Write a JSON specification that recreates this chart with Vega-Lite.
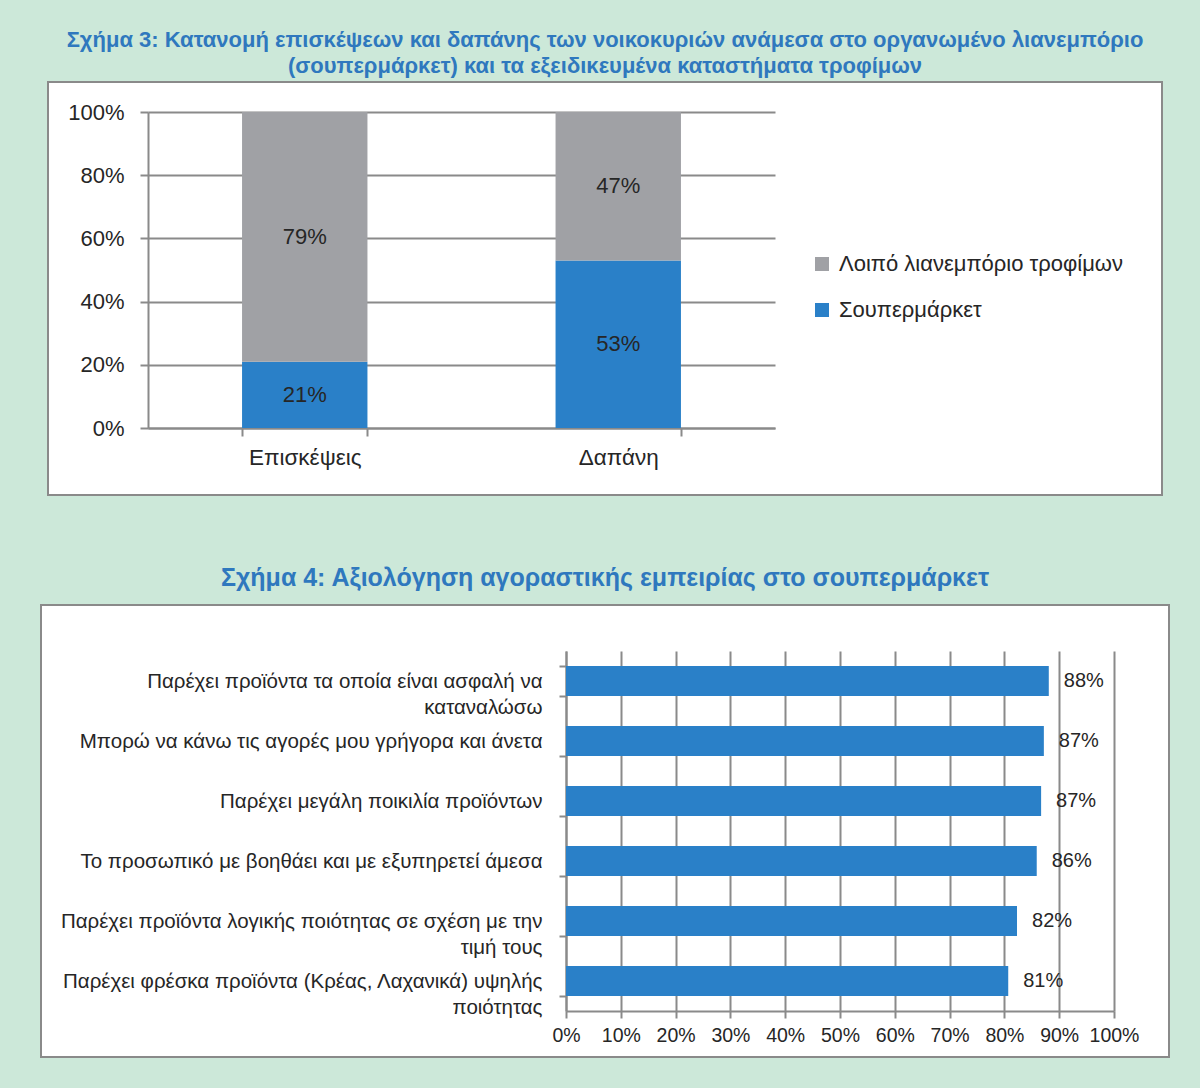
{
  "$schema": "https://vega.github.io/schema/vega-lite/v6.json",
  "background": "#cce8d9",
  "padding": {"left": 40, "top": 28, "right": 32, "bottom": 31},
  "spacing": 69,
  "center": true,
  "config": {
    "font": "Liberation Sans",
    "view": {"fill": "white", "stroke": "#8a8a8a", "strokeWidth": 2},
    "axis": {"labelColor": "#262626", "domainColor": "#8a8a8a", "tickColor": "#8a8a8a", "gridColor": "#8a8a8a", "domainWidth": 2, "tickWidth": 2, "gridWidth": 2, "title": null}
  },
  "vconcat": [
    {
      "width": 1114,
      "height": 413,
      "title": {
        "text": ["Σχήμα 3: Κατανομή επισκέψεων και δαπάνης των νοικοκυριών ανάμεσα στο οργανωμένο λιανεμπόριο", "(σουπερμάρκετ) και τα εξειδικευμένα καταστήματα τροφίμων"],
        "fontSize": 22, "fontWeight": "bold", "color": "#2f78be", "lineHeight": 26, "offset": 4, "anchor": "middle"
      },
      "data": {"values": [
        {"category": "Επισκέψεις", "series": "Σουπερμάρκετ", "share": 0.21},
        {"category": "Επισκέψεις", "series": "Λοιπό λιανεμπόριο τροφίμων", "share": 0.79},
        {"category": "Δαπάνη", "series": "Σουπερμάρκετ", "share": 0.53},
        {"category": "Δαπάνη", "series": "Λοιπό λιανεμπόριο τροφίμων", "share": 0.47}
      ]},
      "encoding": {
        "x": {"field": "category", "type": "nominal", "sort": ["Επισκέψεις", "Δαπάνη"],
          "scale": {"range": [100, 727], "paddingInner": 0.6, "paddingOuter": 0.3},
          "axis": {"orient": "bottom", "offset": -67, "tickBand": "extent", "labelAngle": 0, "labelFontSize": 22.5, "tickSize": 8, "labelPadding": 10, "grid": false}},
        "order": {"field": "series", "sort": "descending"}
      },
      "layer": [
        {
          "mark": {"type": "bar"},
          "encoding": {
            "y": {"field": "share", "type": "quantitative", "stack": "zero",
              "scale": {"domain": [0, 1], "range": [346, 30], "nice": false},
              "axis": {"offset": -100, "values": [0, 0.2, 0.4, 0.6, 0.8, 1], "format": ".0%", "grid": true, "tickSize": 8, "labelFontSize": 22, "labelPadding": 16}},
            "color": {"field": "series", "type": "nominal",
              "scale": {"domain": ["Λοιπό λιανεμπόριο τροφίμων", "Σουπερμάρκετ"], "range": ["#a0a1a5", "#2a80c8"]},
              "legend": {"orient": "none", "legendX": 770, "legendY": 171, "title": null, "labelFontSize": 22, "labelLimit": 500, "labelColor": "#262626", "symbolType": "square", "symbolSize": 196, "symbolStrokeWidth": 0, "rowPadding": 24, "labelOffset": 6}}
          }
        },
        {
          "mark": {"type": "text", "fontSize": 22, "color": "#262626"},
          "encoding": {
            "y": {"field": "share", "type": "quantitative", "stack": "zero", "bandPosition": 0.5,
              "scale": {"domain": [0, 1], "range": [346, 30], "nice": false},
              "axis": {"offset": -100, "values": [0, 0.2, 0.4, 0.6, 0.8, 1], "format": ".0%", "grid": true, "tickSize": 8, "labelFontSize": 22, "labelPadding": 16}},
            "text": {"field": "share", "type": "quantitative", "format": ".0%"}
          }
        }
      ]
    },
    {
      "width": 1128,
      "height": 452,
      "title": {"text": "Σχήμα 4: Αξιολόγηση αγοραστικής εμπειρίας στο σουπερμάρκετ", "fontSize": 25, "fontWeight": "bold", "color": "#2f78be", "offset": 4, "anchor": "middle"},
      "data": {"values": [
        {"statement": "Παρέχει προϊόντα τα οποία είναι ασφαλή να\nκαταναλώσω", "score": 0.881},
        {"statement": "Μπορώ να κάνω τις αγορές μου γρήγορα και άνετα", "score": 0.872},
        {"statement": "Παρέχει μεγάλη ποικιλία προϊόντων", "score": 0.867},
        {"statement": "Το προσωπικό με βοηθάει και με εξυπηρετεί άμεσα", "score": 0.859},
        {"statement": "Παρέχει προϊόντα λογικής ποιότητας σε σχέση με την\nτιμή τους", "score": 0.823},
        {"statement": "Παρέχει φρέσκα προϊόντα (Κρέας, Λαχανικά) υψηλής\nποιότητας", "score": 0.807}
      ]},
      "encoding": {
        "y": {"field": "statement", "type": "nominal", "sort": null,
          "scale": {"range": [46, 406], "paddingInner": 0.5, "paddingOuter": 0.25},
          "axis": {"offset": -525, "tickBand": "extent", "labelFontSize": 20.5, "labelLineHeight": 26, "labelExpr": "split(datum.label, '\\n')", "labelPadding": 17, "tickSize": 7, "labelLimit": 700}},
        "x": {"field": "score", "type": "quantitative",
          "scale": {"domain": [0, 1], "range": [525, 1073], "nice": false},
          "axis": {"orient": "bottom", "offset": -46, "values": [0, 0.1, 0.2, 0.3, 0.4, 0.5, 0.6, 0.7, 0.8, 0.9, 1], "format": ".0%", "grid": true, "labelFontSize": 19.5, "labelOverlap": false, "labelFlush": false, "tickSize": 7, "labelPadding": 8}}
      },
      "layer": [
        {"mark": {"type": "bar", "color": "#2a80c8"}},
        {"mark": {"type": "text", "align": "left", "dx": 15, "fontSize": 20, "color": "#262626"},
          "encoding": {"text": {"field": "score", "type": "quantitative", "format": ".0%"}}}
      ]
    }
  ]
}
